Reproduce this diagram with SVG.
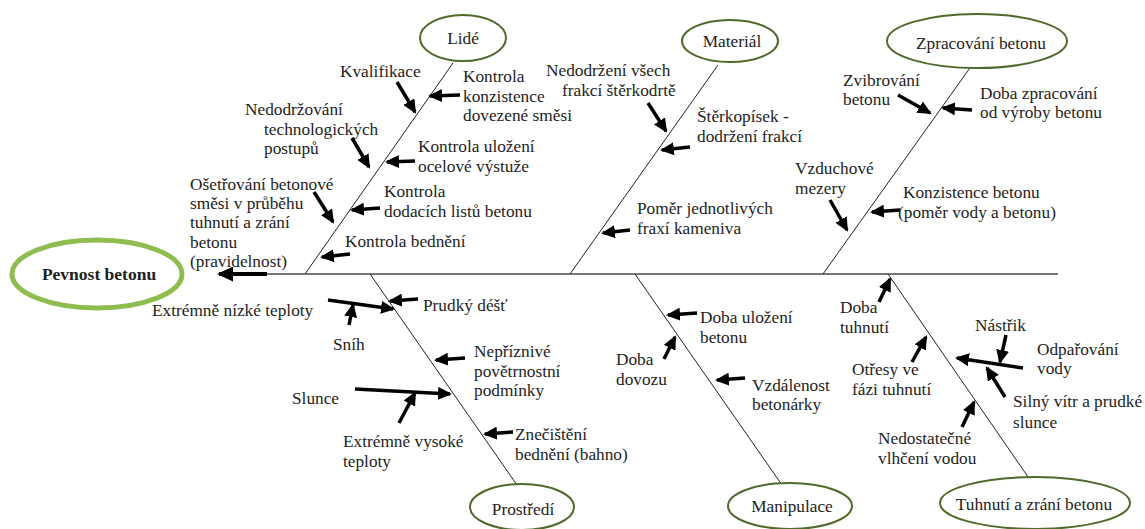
<svg xmlns="http://www.w3.org/2000/svg" width="1145" height="529" viewBox="0 0 1145 529">
<style>
text{font-family:"Liberation Serif","Times New Roman",serif;font-size:17.3px;fill:#1e1e1e}
.c{text-anchor:middle}
.b{font-weight:bold;font-size:17.5px}
.cat{fill:#fff;stroke:#4f6a2a;stroke-width:2}
.bone{stroke:#222;stroke-width:1;fill:none}
.spine{stroke:#4a4a4a;stroke-width:1.6;fill:none}
.ar{stroke:#000;stroke-width:3.5;fill:none;marker-end:url(#ah)}
</style>
<defs>
<marker id="ah" markerUnits="userSpaceOnUse" markerWidth="14" markerHeight="13" refX="12" refY="6.5" orient="auto"><path d="M0,0 L14,6.5 L0,13 z" fill="#000"/></marker>
<marker id="ahb" markerUnits="userSpaceOnUse" markerWidth="16" markerHeight="15" refX="14" refY="7.5" orient="auto"><path d="M0,0 L16,7.5 L0,15 z" fill="#000"/></marker>
</defs>
<rect width="1145" height="529" fill="#fff"/>
<g id="connectors">
<line class="spine" x1="267" y1="274" x2="1058" y2="274"/>
<line x1="267" y1="274" x2="219" y2="274" stroke="#000" stroke-width="4" marker-end="url(#ahb)"/>
<line class="bone" x1="453" y1="63" x2="305" y2="274"/>
<line class="bone" x1="718" y1="65" x2="570" y2="274"/>
<line class="bone" x1="972" y1="65" x2="823" y2="274"/>
<line class="bone" x1="370" y1="274" x2="517" y2="485"/>
<line class="bone" x1="635" y1="274" x2="782" y2="485"/>
<line class="bone" x1="888" y1="274" x2="1035" y2="487"/>
<line class="ar" x1="397" y1="82" x2="415" y2="112"/>
<line class="ar" x1="460" y1="95" x2="430" y2="96"/>
<line class="ar" x1="352" y1="138" x2="369" y2="167"/>
<line class="ar" x1="415" y1="161" x2="387" y2="162"/>
<line class="ar" x1="314" y1="192" x2="333" y2="222"/>
<line class="ar" x1="380" y1="208" x2="352" y2="210"/>
<line class="ar" x1="350" y1="254" x2="322" y2="257"/>
<line class="ar" x1="648" y1="103" x2="666" y2="131"/>
<line class="ar" x1="690" y1="147" x2="662" y2="150"/>
<line class="ar" x1="630" y1="230" x2="603" y2="233"/>
<line class="ar" x1="898" y1="95" x2="930" y2="113"/>
<line class="ar" x1="972" y1="110" x2="943" y2="108"/>
<line class="ar" x1="830" y1="200" x2="847" y2="230"/>
<line class="ar" x1="900" y1="210" x2="872" y2="212"/>
<line class="ar" x1="328" y1="300" x2="393" y2="309"/>
<line class="ar" x1="349" y1="325" x2="353" y2="305"/>
<line class="ar" x1="418" y1="299" x2="390" y2="301"/>
<line class="ar" x1="465" y1="358" x2="436" y2="360"/>
<line class="ar" x1="355" y1="389" x2="450" y2="394"/>
<line class="ar" x1="399" y1="423" x2="415" y2="393"/>
<line class="ar" x1="513" y1="432" x2="485" y2="434"/>
<line class="ar" x1="697" y1="313" x2="668" y2="315"/>
<line class="ar" x1="664" y1="359" x2="675" y2="337"/>
<line class="ar" x1="745" y1="378" x2="717" y2="380"/>
<line class="ar" x1="879" y1="302" x2="890" y2="279"/>
<line class="ar" x1="912" y1="362" x2="926" y2="337"/>
<line class="ar" x1="962" y1="427" x2="974" y2="402"/>
<line class="ar" x1="1023" y1="368" x2="957" y2="358"/>
<line class="ar" x1="1006" y1="335" x2="1000" y2="362"/>
<line class="ar" x1="1005" y1="397" x2="987" y2="368"/>
</g>
<g id="pevnost">
<ellipse cx="97" cy="274" rx="85" ry="34" fill="#fff" stroke="#8fbc4e" stroke-width="5"/>
<text class="c b" x="99" y="280">Pevnost betonu</text>
</g>
<g id="lide">
<ellipse class="cat" cx="463" cy="38" rx="43" ry="23"/>
<text class="c" x="463" y="44">Lidé</text>
</g>
<g id="material">
<ellipse class="cat" cx="730" cy="41" rx="48" ry="21"/>
<text class="c" x="732" y="47">Materiál</text>
</g>
<g id="zpracovani">
<ellipse class="cat" cx="977" cy="41" rx="90" ry="27"/>
<text class="c" x="981" y="49">Zpracování betonu</text>
</g>
<g id="prostredi">
<ellipse class="cat" cx="522" cy="507" rx="52" ry="23"/>
<text class="c" x="523" y="515">Prostředí</text>
</g>
<g id="manipulace">
<ellipse class="cat" cx="790" cy="506" rx="62" ry="23"/>
<text class="c" x="792" y="512">Manipulace</text>
</g>
<g id="tuhnuti">
<ellipse class="cat" cx="1035" cy="503" rx="95" ry="26"/>
<text class="c" x="1034" y="510">Tuhnutí a zrání betonu</text>
</g>
<g id="lide-causes">
<text x="340" y="77">Kvalifikace</text>
<text x="463" y="82">Kontrola</text>
<text x="463" y="102">konzistence</text>
<text x="463" y="121">dovezené směsi</text>
<text x="245" y="115">Nedodržování</text>
<text x="264" y="135">technologických</text>
<text x="264" y="154">postupů</text>
<text x="418" y="152">Kontrola uložení</text>
<text x="418" y="172">ocelové výstuže</text>
<text x="190" y="190">Ošetřování betonové</text>
<text x="190" y="209">směsi v průběhu</text>
<text x="190" y="228">tuhnutí a zrání</text>
<text x="190" y="248">betonu</text>
<text x="190" y="267">(pravidelnost)</text>
<text x="384" y="197">Kontrola</text>
<text x="384" y="217">dodacích listů betonu</text>
<text x="345" y="247">Kontrola bednění</text>
</g>
<g id="material-causes">
<text x="546" y="76">Nedodržení všech</text>
<text x="562" y="96">frakcí štěrkodrtě</text>
<text x="697" y="122">Štěrkopísek -</text>
<text x="697" y="142">dodržení frakcí</text>
<text x="637" y="214">Poměr jednotlivých</text>
<text x="637" y="234">fraxí kameniva</text>
</g>
<g id="zpracovani-causes">
<text x="843" y="86">Zvibrování</text>
<text x="843" y="105">betonu</text>
<text x="980" y="99">Doba zpracování</text>
<text x="980" y="118">od výroby betonu</text>
<text x="795" y="174">Vzduchové</text>
<text x="795" y="194">mezery</text>
<text x="903" y="198">Konzistence betonu</text>
<text x="898" y="218">(poměr vody a betonu)</text>
</g>
<g id="prostredi-causes">
<text x="152" y="316">Extrémně nízké teploty</text>
<text x="333" y="350">Sníh</text>
<text x="423" y="311">Prudký déšť</text>
<text x="474" y="357">Nepříznivé</text>
<text x="474" y="377">povětrnostní</text>
<text x="474" y="396">podmínky</text>
<text x="292" y="404">Slunce</text>
<text x="343" y="447">Extrémně vysoké</text>
<text x="343" y="467">teploty</text>
<text x="515" y="440">Znečištění</text>
<text x="515" y="460">bednění (bahno)</text>
</g>
<g id="manipulace-causes">
<text x="700" y="323">Doba uložení</text>
<text x="700" y="343">betonu</text>
<text x="616" y="365">Doba</text>
<text x="616" y="385">dovozu</text>
<text x="752" y="391">Vzdálenost</text>
<text x="752" y="410">betonárky</text>
</g>
<g id="tuhnuti-causes">
<text x="840" y="313">Doba</text>
<text x="840" y="333">tuhnutí</text>
<text x="852" y="375">Otřesy ve</text>
<text x="852" y="395">fázi tuhnutí</text>
<text x="878" y="444">Nedostatečné</text>
<text x="878" y="464">vlhčení vodou</text>
<text x="975" y="331">Nástřik</text>
<text x="1037" y="355">Odpařování</text>
<text x="1037" y="374">vody</text>
<text x="1013" y="407">Silný vítr a prudké</text>
<text x="1013" y="428">slunce</text>
</g>
</svg>
